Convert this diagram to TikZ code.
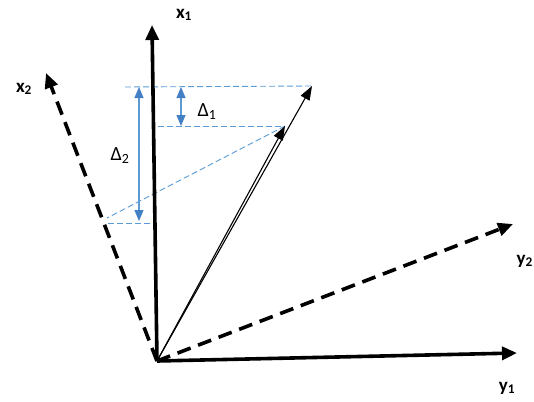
\documentclass[tikz,border=0pt]{standalone}
\usepackage{fontspec}
\setmainfont{Carlito}
\usetikzlibrary{arrows.meta}
\definecolor{lblue}{RGB}{91,155,213}
\definecolor{dblue}{RGB}{68,128,196}
\tikzset{
  axis/.style={line width=3.6pt,-{Triangle[length=15pt,width=13pt]}},
  daxis/.style={line width=3.6pt,dash pattern=on 14pt off 8pt,-{Triangle[length=15pt,width=13pt]}},
  vec/.style={line width=1.1pt,-{Triangle[length=14pt,width=10pt]}},
  guide/.style={lblue,line width=0.9pt,dash pattern=on 6pt off 3pt},
  dim/.style={lblue,line width=1.1pt,{Triangle[length=11pt,width=9pt,color=dblue]}-{Triangle[length=11pt,width=9pt,color=dblue]}},
  axlabel/.style={font=\fontsize{19}{19}\selectfont\bfseries,inner sep=0pt},
  dlabel/.style={font=\fontsize{20}{20}\selectfont,inner sep=0pt}
}
\begin{document}
\begin{tikzpicture}[x=1pt,y=-1pt]
\useasboundingbox (0,0) rectangle (534,401);
\coordinate (O) at (157,361);
\coordinate (X1) at (152,25);
\coordinate (Y1) at (517,353);
\coordinate (X2) at (46,73);
\coordinate (Y2) at (513,224);
\coordinate (P) at (312,86);
\coordinate (Q) at (285,126);
% guides
\coordinate (g1a) at (125,87);
\coordinate (g2a) at (158,126);
\coordinate (g3a) at (107,218);
\coordinate (g4a) at (108,223);
\coordinate (g4b) at (156,223);
\draw[guide] (g1a) -- (P);
\draw[guide] (g2a) -- (Q);
\draw[guide] (Q) -- (g3a);
\draw[guide] (g4a) -- (g4b);
% dimension arrows
\coordinate (d1a) at (181,87);
\coordinate (d1b) at (181,126);
\coordinate (d2a) at (139,87);
\coordinate (d2b) at (139,221);
\draw[dim] (d1a) -- (d1b);
\draw[dim] (d2a) -- (d2b);
% axes
\draw[axis] (O) -- (X1);
\draw[axis] (O) -- (Y1);
\draw[daxis] (O) -- (X2);
\draw[daxis] (O) -- (Y2);
% vectors
\draw[vec] (O) -- (P);
\draw[vec] (O) -- (Q);
% labels
\node[axlabel] (lx1) at (184,15) {x\textsubscript{1}};
\node[axlabel] (ly1) at (507,388) {y\textsubscript{1}};
\node[axlabel] (lx2) at (24,89) {x\textsubscript{2}};
\node[axlabel,anchor=east] (ly2) at (533,261) {y\textsubscript{2}};
\node[dlabel] (ld1) at (207,112) {Δ\textsubscript{1}};
\node[dlabel] (ld2) at (120,156) {Δ\textsubscript{2}};
\end{tikzpicture}
\end{document}
